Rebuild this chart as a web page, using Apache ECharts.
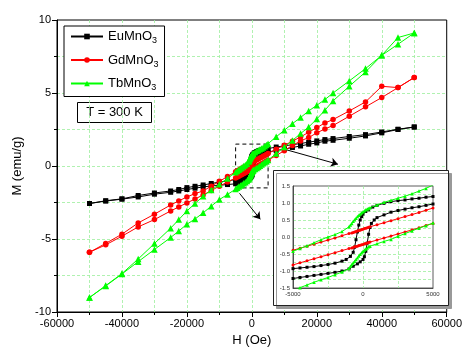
<!DOCTYPE html>
<html>
<head>
<meta charset="utf-8">
<script src="https://cdn.jsdelivr.net/npm/echarts@6/dist/echarts.min.js"></script>
<style>
  html, body { margin: 0; padding: 0; background: #fff; }
  #chart { width: 465px; height: 354px; }
</style>
</head>
<body>
<div id="chart"></div>
<script>
// 磁滞回线数据：每种材料分上升支 (asc) 和下降支 (desc)，按 H 升序排列
const seriesNames = ['EuMnO3', 'GdMnO3', 'TbMnO3'];

const euAsc = [
  [-50000, -2.57], [-45000, -2.40], [-40000, -2.27], [-35000, -2.12], [-30000, -1.93],
  [-25000, -1.80], [-22500, -1.71], [-20000, -1.61], [-17500, -1.52], [-15000, -1.43],
  [-12500, -1.37], [-10000, -1.32], [-7500, -1.27], [-5000, -1.22], [-4500, -1.19],
  [-4000, -1.16], [-3500, -1.13], [-3000, -1.10], [-2500, -1.07], [-2000, -1.04],
  [-1500, -1.00], [-1000, -0.94], [-700, -0.86], [-400, -0.79], [-200, -0.73],
  [0, -0.66], [100, -0.58], [200, -0.42], [300, -0.18], [400, 0.08], [500, 0.28],
  [600, 0.40], [800, 0.50], [1000, 0.57], [1500, 0.65], [2000, 0.73], [2500, 0.78],
  [3000, 0.82], [3500, 0.86], [4000, 0.89], [4500, 0.93], [5000, 0.97], [7500, 1.07],
  [10000, 1.15], [12500, 1.27], [15000, 1.37], [17500, 1.49], [20000, 1.58],
  [22500, 1.70], [25000, 1.76], [30000, 1.90], [35000, 2.06], [40000, 2.27],
  [45000, 2.50], [50000, 2.67]
];
const euDesc = [
  [-50000, -2.57], [-45000, -2.38], [-40000, -2.25], [-35000, -2.02], [-30000, -1.85],
  [-25000, -1.71], [-22500, -1.61], [-20000, -1.48], [-17500, -1.39], [-15000, -1.30],
  [-12500, -1.20], [-10000, -1.10], [-7500, -1.02], [-5000, -0.93], [-4500, -0.91],
  [-4000, -0.89], [-3500, -0.87], [-3000, -0.84], [-2500, -0.81], [-2000, -0.77],
  [-1500, -0.71], [-1200, -0.66], [-900, -0.57], [-700, -0.45], [-600, -0.30],
  [-500, -0.08], [-400, 0.15], [-300, 0.35], [-200, 0.50], [-100, 0.60], [0, 0.67],
  [200, 0.75], [400, 0.80], [700, 0.88], [1000, 0.93], [1500, 0.99], [2000, 1.04],
  [2500, 1.07], [3000, 1.09], [3500, 1.12], [4000, 1.14], [4500, 1.17], [5000, 1.19],
  [7500, 1.30], [10000, 1.38], [12500, 1.46], [15000, 1.54], [17500, 1.63],
  [20000, 1.72], [22500, 1.81], [25000, 1.88], [30000, 2.02], [35000, 2.15],
  [40000, 2.33], [45000, 2.52], [50000, 2.67]
];

const gdAsc = [
  [-50000, -5.91], [-45000, -5.40], [-40000, -4.81], [-35000, -4.17], [-30000, -3.67],
  [-25000, -3.08], [-22500, -2.80], [-20000, -2.53], [-17500, -2.26], [-15000, -1.98],
  [-12500, -1.68], [-10000, -1.38], [-7500, -1.10], [-5000, -0.82], [-4500, -0.76],
  [-4000, -0.70], [-3500, -0.64], [-3000, -0.58], [-2500, -0.52], [-2000, -0.46],
  [-1500, -0.40], [-1000, -0.34], [-800, -0.32], [-700, -0.31], [-600, -0.29],
  [-500, -0.28], [-400, -0.27], [-300, -0.25], [-200, -0.24], [-100, -0.23], [0, -0.22],
  [100, -0.20], [200, -0.19], [300, -0.18], [400, -0.16], [500, -0.15], [1000, -0.09],
  [1500, -0.03], [2000, 0.03], [2500, 0.09], [3000, 0.15], [3500, 0.21], [4000, 0.27],
  [4500, 0.34], [5000, 0.40], [7500, 0.72], [10000, 1.05], [12500, 1.40], [15000, 1.72],
  [17500, 1.95], [20000, 2.27], [22500, 2.54], [25000, 2.77], [30000, 3.41],
  [35000, 4.05], [40000, 4.69], [45000, 5.37], [50000, 6.06]
];
const gdDesc = [
  [-50000, -5.91], [-45000, -5.30], [-40000, -4.67], [-35000, -3.90], [-30000, -3.30],
  [-25000, -2.67], [-22500, -2.39], [-20000, -2.12], [-17500, -1.89], [-15000, -1.71],
  [-12500, -1.38], [-10000, -1.05], [-7500, -0.72], [-5000, -0.39], [-4500, -0.33],
  [-4000, -0.27], [-3500, -0.21], [-3000, -0.15], [-2500, -0.09], [-2000, -0.03],
  [-1500, 0.04], [-1000, 0.10], [-800, 0.12], [-700, 0.13], [-600, 0.15], [-500, 0.16],
  [-400, 0.18], [-300, 0.19], [-200, 0.20], [-100, 0.22], [0, 0.23], [100, 0.25],
  [200, 0.26], [300, 0.27], [400, 0.29], [500, 0.30], [1000, 0.36], [1500, 0.42],
  [2000, 0.48], [2500, 0.54], [3000, 0.60], [3500, 0.66], [4000, 0.72], [4500, 0.79],
  [5000, 0.85], [7500, 1.15], [10000, 1.42], [12500, 1.70], [15000, 1.99],
  [17500, 2.31], [20000, 2.63], [22500, 2.95], [25000, 3.18], [30000, 3.77],
  [35000, 4.39], [40000, 5.46], [45000, 5.37], [50000, 6.06]
];

const tbAsc = [
  [-50000, -9.01], [-45000, -8.22], [-40000, -7.40], [-35000, -6.55], [-30000, -5.72],
  [-25000, -4.90], [-22500, -4.45], [-20000, -3.99], [-17500, -3.63], [-15000, -3.21],
  [-12500, -2.75], [-10000, -2.30], [-7500, -1.95], [-5000, -1.58], [-4500, -1.49],
  [-4000, -1.41], [-3500, -1.33], [-3000, -1.26], [-2500, -1.19], [-2000, -1.11],
  [-1500, -1.03], [-1000, -0.93], [-900, -0.86], [-800, -0.81], [-700, -0.76],
  [-600, -0.71], [-500, -0.66], [-400, -0.61], [-300, -0.56], [-200, -0.51],
  [-100, -0.46], [0, -0.42], [100, -0.38], [200, -0.35], [300, -0.32], [400, -0.29],
  [500, -0.27], [1000, -0.20], [1500, -0.13], [2000, -0.07], [2500, 0.02],
  [3000, 0.10], [3500, 0.18], [4000, 0.26], [4500, 0.33], [5000, 0.41], [7500, 0.85],
  [10000, 1.30], [12500, 1.75], [15000, 2.22], [17500, 2.67], [20000, 3.22],
  [22500, 3.82], [25000, 4.46], [30000, 5.46], [35000, 6.44], [40000, 7.58],
  [45000, 8.34], [50000, 9.11]
];
const tbDesc = [
  [-50000, -9.01], [-45000, -8.19], [-40000, -7.37], [-35000, -6.37], [-30000, -5.31],
  [-25000, -4.26], [-22500, -3.67], [-20000, -3.08], [-17500, -2.57], [-15000, -2.07],
  [-12500, -1.65], [-10000, -1.25], [-7500, -0.85], [-5000, -0.42], [-4500, -0.34],
  [-4000, -0.26], [-3500, -0.17], [-3000, -0.08], [-2500, 0.00], [-2000, 0.07],
  [-1500, 0.16], [-1000, 0.30], [-900, 0.35], [-800, 0.40], [-700, 0.46], [-600, 0.51],
  [-500, 0.55], [-400, 0.60], [-300, 0.64], [-200, 0.68], [-100, 0.71], [0, 0.74],
  [100, 0.77], [200, 0.80], [300, 0.82], [400, 0.84], [500, 0.86], [1000, 0.94],
  [1500, 1.02], [2000, 1.08], [2500, 1.14], [3000, 1.20], [3500, 1.27], [4000, 1.35],
  [4500, 1.43], [5000, 1.53], [7500, 2.00], [10000, 2.45], [12500, 2.90],
  [15000, 3.32], [17500, 3.77], [20000, 4.16], [22500, 4.55], [25000, 5.00],
  [30000, 5.83], [35000, 6.67], [40000, 7.58], [45000, 8.80], [50000, 9.11]
];

// 主图与插图的坐标范围
const mainX = { min: -60000, max: 60000, step: 20000 };
const mainY = { min: -10, max: 10, step: 5 };
const insetX = { min: -5000, max: 5000, step: 5000 };
const insetY = { min: -1.5, max: 1.5, step: 0.5 };

// 从虚线框指向插图的两根箭头（数据坐标）
const arrowLines = [
  [[10000, 1.15], [26500, 0.12]],
  [[-3800, -1.87], [2600, -3.65]]
];

const COLORS = ['#000000', '#ff0000', '#00ff00'];
const SYMBOLS = ['rect', 'circle', 'triangle'];
const MAIN_SIZES = [5, 5.5, 6.5];
const INSET_SIZES = [3, 3, 3.5];
const FONT = '"Liberation Sans", Arial, sans-serif';
const GRID_GREEN = '#9cef9c';

const branches = [[euAsc, euDesc], [gdAsc, gdDesc], [tbAsc, tbDesc]];

// 一条完整回线：上升支 + 反向的下降支
const loopOf = (asc, desc) => asc.concat(desc.slice().reverse());
const plain = v => String(v);

const chart = echarts.init(document.getElementById('chart'));

// 网格线不画在边框上，避免盖住黑色外框
const dashedGrid = { show: true, showMinLine: false, showMaxLine: false, lineStyle: { color: GRID_GREEN, width: 0.8, type: [3, 2] } };

const mainSeries = branches.map(([asc, desc], i) => ({
  name: seriesNames[i],
  type: 'line',
  xAxisIndex: 0,
  yAxisIndex: 0,
  data: loopOf(asc, desc),
  symbol: SYMBOLS[i],
  symbolSize: MAIN_SIZES[i],
  showAllSymbol: true,
  lineStyle: { color: COLORS[i], width: 1 },
  itemStyle: { color: COLORS[i] },
  emphasis: { disabled: true },
  animation: false,
  z: 3 + i,
  ...(i === 0 ? {
    markArea: {
      silent: true,
      itemStyle: { color: 'rgba(0,0,0,0)', borderColor: '#000', borderWidth: 1, borderType: [4, 3] },
      data: [[{ coord: [insetX.min, insetY.min] }, { coord: [insetX.max, insetY.max] }]]
    },
    markLine: {
      silent: true,
      symbol: ['none', 'arrow'],
      symbolSize: 7,
      label: { show: false },
      lineStyle: { color: '#000', width: 1, type: 'solid' },
      data: arrowLines.map(([a, b]) => [{ coord: a }, { coord: b }])
    }
  } : {})
}));

const insetSeries = [];
branches.forEach((pair, i) => {
  pair.forEach(branch => {
    insetSeries.push({
      type: 'line',
      xAxisIndex: 1,
      yAxisIndex: 1,
      data: branch,
      symbol: SYMBOLS[i],
      symbolSize: INSET_SIZES[i],
      showAllSymbol: true,
      clip: true,
      lineStyle: { color: COLORS[i], width: 1 },
      itemStyle: { color: COLORS[i] },
      emphasis: { disabled: true },
      animation: false,
      z: 62 + i
    });
  });
});

const option = {
  backgroundColor: '#fff',
  animation: false,
  textStyle: { fontFamily: FONT },
  grid: [
    { left: 57, top: 20, width: 395, height: 292, show: true, borderColor: '#000', borderWidth: 1 },
    { left: 293, top: 186, width: 140, height: 102, show: true, borderColor: '#333', borderWidth: 0.8, z: 61 }
  ],
  legend: {
    data: seriesNames,
    orient: 'vertical',
    left: 64,
    top: 26,
    itemWidth: 32,
    itemHeight: 7,
    itemGap: 8,
    padding: [4, 6, 4, 6],
    borderColor: '#000',
    borderWidth: 1,
    backgroundColor: '#fff',
    selectedMode: false,
    z: 20,
    formatter: n => n.replace(/3$/, '{sub|3}'),
    textStyle: {
      fontSize: 13, color: '#000', fontFamily: FONT,
      rich: { sub: { fontSize: 9, fontFamily: FONT, color: '#000', verticalAlign: 'bottom', padding: [9, 0, 0, 0] } }
    }
  },
  xAxis: [
    {
      gridIndex: 0, type: 'value', min: mainX.min, max: mainX.max, interval: mainX.step,
      name: 'H (Oe)', nameLocation: 'middle', nameGap: 22,
      nameTextStyle: { fontSize: 13, color: '#000', fontFamily: FONT },
      axisLine: { onZero: false, lineStyle: { color: '#000', width: 1 } },
      axisTick: { show: true, length: 5, lineStyle: { color: '#000' } },
      minorTick: { show: true, splitNumber: 2, length: 3, lineStyle: { color: '#000' } },
      axisLabel: { fontSize: 11, color: '#000', margin: 6, fontFamily: FONT, formatter: plain },
      splitLine: dashedGrid,
      minorSplitLine: dashedGrid
    },
    {
      gridIndex: 1, type: 'value', min: insetX.min, max: insetX.max, interval: insetX.step, z: 61,
      axisLine: { onZero: false, lineStyle: { color: '#333', width: 0.8 } },
      axisTick: { show: false },
      axisLabel: { fontSize: 6, color: '#333', margin: 3, fontFamily: FONT, formatter: plain },
      splitLine: dashedGrid,
      minorTick: { show: false, splitNumber: 2 },
      minorSplitLine: dashedGrid
    }
  ],
  yAxis: [
    {
      gridIndex: 0, type: 'value', min: mainY.min, max: mainY.max, interval: mainY.step,
      name: 'M (emu/g)', nameLocation: 'middle', nameGap: 32, nameRotate: 90,
      nameTextStyle: { fontSize: 13, color: '#000', fontFamily: FONT },
      axisLine: { show: true, onZero: false, lineStyle: { color: '#000', width: 1 } },
      axisTick: { show: true, length: 5, lineStyle: { color: '#000' } },
      minorTick: { show: true, splitNumber: 2, length: 3, lineStyle: { color: '#000' } },
      axisLabel: { fontSize: 11, color: '#000', margin: 6, fontFamily: FONT },
      splitLine: dashedGrid,
      minorSplitLine: dashedGrid
    },
    {
      gridIndex: 1, type: 'value', min: insetY.min, max: insetY.max, interval: insetY.step, z: 61,
      axisLine: { show: true, onZero: false, lineStyle: { color: '#333', width: 0.8 } },
      axisTick: { show: false },
      axisLabel: { fontSize: 6, color: '#333', margin: 3, fontFamily: FONT, formatter: v => v.toFixed(1) },
      splitLine: dashedGrid,
      minorTick: { show: false, splitNumber: 2 },
      minorSplitLine: dashedGrid
    }
  ],
  graphic: [
    {
      type: 'rect', left: 273, top: 170, z: 50,
      shape: { width: 175, height: 135 },
      style: { fill: '#fff', stroke: '#222', lineWidth: 1, shadowColor: '#999', shadowOffsetX: 3, shadowOffsetY: 3, shadowBlur: 0 }
    },
    {
      type: 'group', left: 77, top: 102, z: 20,
      children: [
        { type: 'rect', shape: { x: 0, y: 0, width: 74, height: 20 }, style: { fill: '#fff', stroke: '#000', lineWidth: 1 } },
        { type: 'text', x: 37, y: 10, style: { text: 'T = 300 K', fontSize: 13, fontFamily: FONT, fill: '#000', align: 'center', verticalAlign: 'middle' } }
      ]
    }
  ],
  series: mainSeries.concat(insetSeries)
};

chart.setOption(option);
</script>
</body>
</html>
